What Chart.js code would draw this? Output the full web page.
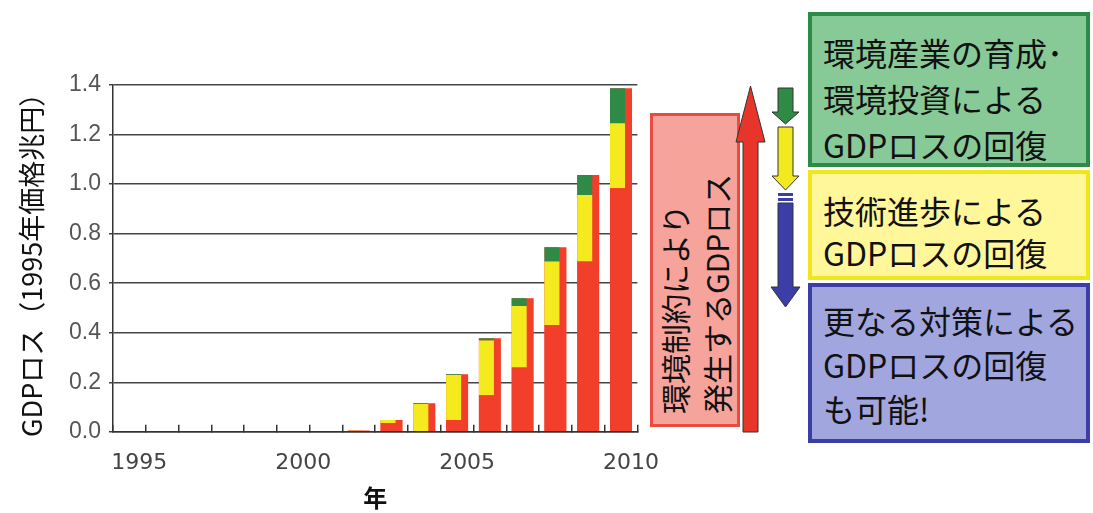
<!DOCTYPE html>
<html lang="ja">
<head>
<meta charset="utf-8">
<title>GDPロス</title>
<script src="https://cdn.jsdelivr.net/npm/chart.js@4.4.1/dist/chart.umd.min.js"></script>
<style>
  html, body { margin: 0; padding: 0; background: #fff; overflow: hidden; }
  body { width: 1093px; height: 513px; position: relative; font-family: 'Noto Sans CJK JP', sans-serif; }
  #chartBox { position: absolute; left: 0; top: 0; width: 674px; height: 513px; }
  .pink {
    position: absolute; left: 538px; top: 225px; width: 308px; height: 84px;
    transform: rotate(-90deg); background: #f6a39b; border: 3px solid #ec4a3c;
    font-size: 30px; line-height: 42px; color: #111; padding: 0; box-sizing: content-box;
  }
  .pink div { padding-left: 10px; white-space: nowrap; }
  .note {
    position: absolute; left: 808px; width: 282px; box-sizing: border-box;
    border: 4px solid; font-size: 32px; color: #111; padding-left: 11px; white-space: nowrap;
  }
  #noteGreen { top: 12px; height: 155px; background: #88c998; border-color: #2e8b47; line-height: 46px; padding-top: 13px; }
  #noteYellow { top: 170px; height: 110px; background: #fff79a; border-color: #f1e51c; line-height: 42px; padding-top: 15px; }
  #noteBlue { top: 283px; height: 160px; background: #a2a6de; border-color: #3b3ea6; line-height: 44px; padding-top: 11px; }
  svg { position: absolute; }
</style>
</head>
<body>
<div id="chartBox"><canvas id="lossChart"></canvas></div>

<div class="pink"><div>環境制約により</div><div>発生するGDPロス</div></div>

<!-- big red arrow -->
<svg style="left:728px; top:80px" width="50" height="360">
  <path d="M22.5 6 L37 62 L30 62 L30 352 L15 352 L15 62 L8 62 Z" fill="#e8352a" stroke="#333" stroke-width="1"/>
</svg>

<!-- small arrows -->
<svg style="left:765px; top:85px" width="40" height="230">
  <path d="M13 3 L28 3 L28 27 L34 27 L20.5 39 L7 27 L13 27 Z" fill="#2f8a45" stroke="#333" stroke-width="1"/>
  <path d="M13 42 L28 42 L28 91 L34 91 L20.5 105 L7 91 L13 91 Z" fill="#f2ea1e" stroke="#333" stroke-width="1"/>
  <rect x="13" y="108" width="15" height="3" fill="#3b3ea6"/>
  <rect x="13" y="113" width="15" height="3" fill="#3b3ea6"/>
  <path d="M13 118 L28 118 L28 202 L35 202 L20.5 222 L6 202 L13 202 Z" fill="#3b3ea6" stroke="#333" stroke-width="1"/>
</svg>

<div class="note" id="noteGreen">環境産業の育成･<br>環境投資による<br>GDPロスの回復</div>
<div class="note" id="noteYellow">技術進歩による<br>GDPロスの回復</div>
<div class="note" id="noteBlue">更なる対策による<br>GDPロスの回復<br>も可能!</div>

<script>
// chart data (1995年価格兆円)
const years = ['1995', '1996', '1997', '1998', '1999', '2000', '2001', '2002',
               '2003', '2004', '2005', '2006', '2007', '2008', '2009', '2010'];
const totalLoss = [0, 0, 0, 0, 0, 0, 0, 0.005, 0.048, 0.115, 0.232, 0.378, 0.539, 0.745, 1.037, 1.387];
const remainingLoss = [0, 0, 0, 0, 0, 0, 0, 0.004, 0.036, 0, 0.048, 0.148, 0.260, 0.431, 0.687, 0.983];
const techRecovery = [0, 0, 0, 0, 0, 0, 0, 0.001, 0.012, 0.112, 0.181, 0.221, 0.248, 0.256, 0.269, 0.263];
const envRecovery = [0, 0, 0, 0, 0, 0, 0, 0, 0, 0.003, 0.003, 0.009, 0.031, 0.058, 0.081, 0.141];
const yTicks = ['0.0', '0.2', '0.4', '0.6', '0.8', '1.0', '1.2', '1.4'];
const shownYears = ['1995', '2000', '2005', '2010'];

const RED = '#f23f2c';
const YELLOW = '#f5ea1e';
const GREEN = '#2f8a45';

document.addEventListener('DOMContentLoaded', function () {
    const ctx = document.getElementById('lossChart').getContext('2d');

    // x.stacked is false so the 3 part datasets count as 3 slots, but they share
    // stack 'parts' and all sit in slot 0 -> left side of the category.
    // barPercentage > 1 widens them so they overlap the total bar (red strip on the right)
    const partOpts = { stack: 'parts', categoryPercentage: 0.3206, barPercentage: 4.286, borderWidth: 0 };

    new Chart(ctx, {
        type: 'bar',
        data: {
            labels: years,
            datasets: [
                Object.assign({ label: '残るGDPロス', data: remainingLoss, backgroundColor: RED }, partOpts),
                Object.assign({ label: '技術進歩による回復', data: techRecovery, backgroundColor: YELLOW }, partOpts),
                Object.assign({ label: '環境産業の育成・環境投資による回復', data: envRecovery, backgroundColor: GREEN }, partOpts),
                {
                    label: '環境制約により発生するGDPロス',
                    data: totalLoss,
                    backgroundColor: RED,
                    borderWidth: 0,
                    stack: 'total',
                    grouped: false,
                    categoryPercentage: 1,
                    barPercentage: 0.672
                }
            ]
        },
        options: {
            responsive: true,
            maintainAspectRatio: false,
            animation: false,
            layout: { padding: { left: 12, top: 85, right: 0, bottom: 4 } },
            plugins: {
                legend: { display: false },
                tooltip: { enabled: false }
            },
            scales: {
                x: {
                    stacked: false,
                    offset: true,
                    grid: {
                        offset: true,
                        drawOnChartArea: false,
                        tickLength: -7,
                        color: '#333',
                        lineWidth: 1.5
                    },
                    border: { color: '#333', width: 1.5 },
                    ticks: {
                        autoSkip: false,
                        maxRotation: 0,
                        padding: 25,
                        labelOffset: 10,
                        color: '#444',
                        font: { family: "'DejaVu Sans', sans-serif", size: 22 },
                        callback: function (value, index) {
                            const y = years[index];
                            return shownYears.includes(y) ? y : '';
                        }
                    },
                    title: {
                        display: true,
                        text: '年',
                        color: '#111',
                        font: { family: "'Noto Sans CJK JP', sans-serif", size: 24, weight: 'bold' },
                        padding: { top: -18, bottom: -3 }
                    }
                },
                y: {
                    stacked: true,
                    min: 0,
                    max: 1.4,
                    grid: { color: '#444', lineWidth: 1.5, tickLength: 4 },
                    border: { color: '#333', width: 1.5 },
                    ticks: {
                        stepSize: 0.2,
                        padding: 8,
                        color: '#555',
                        font: { family: "'Liberation Sans', sans-serif", size: 23 },
                        callback: function (value, index) {
                            return yTicks[index] !== undefined ? yTicks[index] : value.toFixed(1);
                        }
                    },
                    title: {
                        display: true,
                        text: 'GDPロス（1995年価格兆円）',
                        color: '#111',
                        font: { family: "'Noto Sans CJK JP', sans-serif", size: 27 },
                        padding: { top: 4, bottom: 12.6 }
                    }
                }
            }
        }
    });
});
</script>
</body>
</html>
